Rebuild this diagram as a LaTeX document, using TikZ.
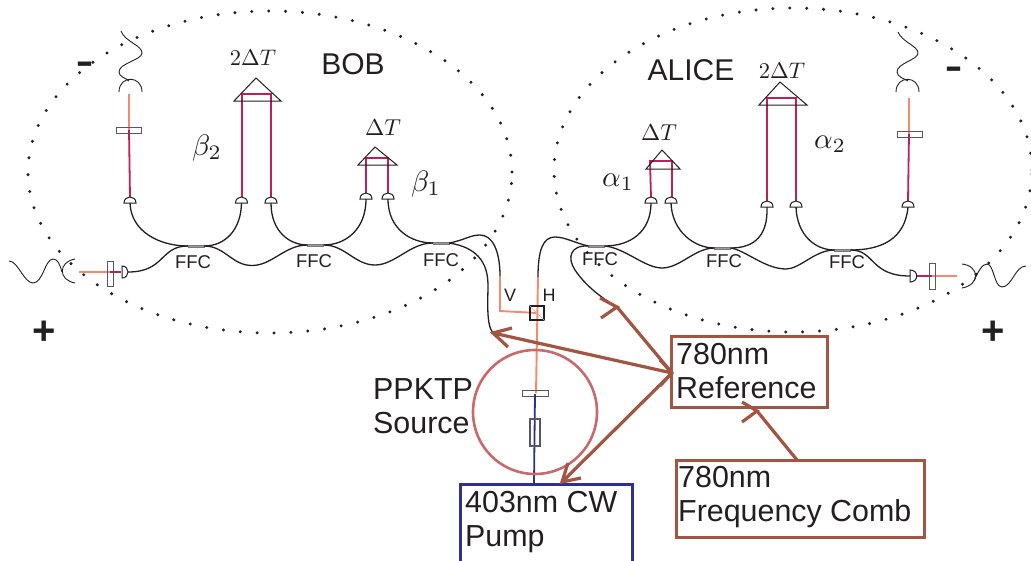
\documentclass[tikz,border=0pt]{standalone}
\usepackage{fontspec}
\setmainfont{Liberation Sans}
\newfontfamily\dvfont{DejaVu Sans}
\definecolor{crim}{HTML}{BE1E5A}
\definecolor{oran}{HTML}{F58B6C}
\definecolor{blu}{HTML}{2E3192}
\definecolor{brwn}{HTML}{A25641}
\definecolor{rosy}{HTML}{C9696A}
\definecolor{ink}{HTML}{231F20}
\newcommand{\fs}[1]{\fontsize{#1}{#1}\selectfont}
\newcommand{\domeup}[3]{\coordinate (#1) at (#2,#3);
  \draw[optic,fill=white] (#2-6,#3) .. controls (#2-6,#3-8) and (#2+6,#3-8) .. (#2+6,#3) -- cycle;}
\tikzset{
  optic/.style={draw=ink,line width=1pt},
  fibre/.style={draw=ink,line width=1.3pt},
  thinw/.style={draw=ink,line width=0.9pt},
  beamc/.style={draw=crim,line width=1.8pt},
  beamo/.style={draw=oran,line width=1.9pt},
  beamb/.style={draw=blu,line width=1.8pt},
  plate/.style={draw=ink!75,line width=1pt,inner sep=0pt,minimum width=#1},
  coupler/.style={fill=ink!45,draw=ink!60,line width=0.4pt,inner sep=0pt,minimum width=16pt,minimum height=2pt},
  dots/.style={draw=ink,line width=3.3pt,line cap=round,dash pattern=on 0pt off 16.9pt},
  ffc/.style={text=ink,font=\fs{18.5}},
  big/.style={text=ink,font=\fs{30.4},align=left},
  mathlab/.style={text=ink,inner sep=0pt,scale=#1},
  signbar/.style={text=ink,font=\dvfont\bfseries\fs{34},inner sep=0pt},
  plussign/.style={text=ink,font=\bfseries\fs{40},inner sep=0pt},
  refbox/.style={draw=brwn,line width=3pt,inner sep=0pt},
  link/.style={draw=brwn,line width=3.2pt},
  barb/.style={draw=brwn,line width=3.2pt,line join=miter},
}
\begin{document}
\begin{tikzpicture}[x=1pt,y=-1pt]
\path[use as bounding box,clip] (0,0) rectangle (1031,560);
\fill[white] (0,0) rectangle (1031,560);
% party regions
\draw[dots] (270,172) ellipse [x radius=242pt,y radius=161pt];
\draw[dots] (793,170) ellipse [x radius=239pt,y radius=162pt];
\node[text=ink,font=\fs{30}] (bob) at (353,64) {BOB};
\node[text=ink,font=\fs{30}] (alice) at (691,70) {ALICE};
% --- BOB optics
\node[coupler] (b1) at (196,246) {};
\node[coupler] (b2) at (315.5,245) {};
\node[coupler] (b3) at (441,243) {};
\node[ffc] (fb1) at (193,262) {FFC};
\node[ffc] (fb2) at (314,261) {FFC};
\node[ffc] (fb3) at (441,260) {FFC};
% beams
\draw[beamo] (129,94) -- (129,130);
\draw[beamc] (129,130) -- (130,197);
\draw[beamc] (242,197) -- (242,94) -- (271,94) -- (271,197);
\draw[beamc] (366,193) -- (366,158) -- (388,158) -- (388,193);
\node[plate=25pt,minimum height=6pt] (bp1) at (128.5,130) {};
\domeup{bd1}{130}{203}
\domeup{bd2}{241.5}{203}
\domeup{bd3}{271}{203}
\domeup{bd4}{366}{199}
\domeup{bd5}{388}{199}
\draw[optic] (234,101) -- (256,78) -- (281,101) -- cycle;
\draw[optic] (358,165) -- (375,147) -- (397,165) -- cycle;
% receivers / waves
\draw[thinw] (119,92) .. controls (119,75) and (142,75) .. (142,92);
\draw[thinw] (121,31) .. controls (125,42) and (142,45) .. (142,53) .. controls (142,60) and (119,63) .. (119,72) .. controls (119,77) and (126,78) .. (129,81);
\draw[thinw] (9,261) .. controls (18,261) and (24,283) .. (33,283) .. controls (43,283) and (45,259) .. (53,259) .. controls (58,259) and (60,265) .. (62,272);
\draw[thinw] (75,259) .. controls (58,262) and (58,280) .. (75,283);
\draw[beamo] (79,272) -- (110,272);
\draw[beamc] (110,272) -- (121,272);
\node[plate=6pt,minimum height=25pt] (bp2) at (110,273.5) {};
\coordinate (bd0) at (128,272);
\draw[optic,fill=white] (122,266) .. controls (130,266) and (130,278) .. (122,278) -- cycle;
% fibres
\draw[fibre] (bd1) .. controls (131,232) and (160,246) .. (b1.west);
\draw[fibre] (bd2) .. controls (241,230) and (225,246) .. (b1.east);
\draw[fibre] (bd3) .. controls (271,232) and (290,245) .. (b2.west);
\draw[fibre] (bd4) .. controls (366,230) and (345,245) .. (b2.east);
\draw[fibre] (bd5) .. controls (388,230) and (412,243) .. (b3.west);
\coordinate (bm1) at (252,265.5);
\coordinate (bm2) at (375,265);
\draw[fibre] (b1.east) .. controls (225,246) and (232,265.5) .. (bm1) .. controls (272,265.5) and (285,245) .. (b2.west);
\draw[fibre] (b2.east) .. controls (345,245) and (355,265) .. (bm2) .. controls (395,265) and (410,243) .. (b3.west);
\draw[fibre] (bd0) .. controls (165,272) and (160,246) .. (b1.west);
% --- source
\coordinate (vend) at (500,276);
\coordinate (hend) at (538,277);
\coordinate (vturn) at (500,311);
\draw[beamo] (vend) -- (vturn) -- (537,313);
\draw[beamo] (hend) -- (536,393);
\node[draw=ink,line width=1.3pt,inner sep=0pt,minimum size=14pt] (pbs) at (537,313) {};
\draw[ink!30,line width=0.6pt] (pbs.north west) -- (pbs.south east);
\node[plate=26pt,minimum height=6pt] (wp) at (535,393.5) {};
\draw[beamb] (535,394) -- (534,483);
\node[plate=10pt,minimum height=27pt,line width=1.2pt] (crystal) at (535,432.5) {};
\node[draw=rosy,line width=2.6pt,circle,inner sep=0pt,minimum size=124pt] (src) at (535,412) {};
\node[ffc,font=\fs{18}] (vl) at (510,295) {V};
\node[ffc,font=\fs{18}] (hl) at (549,295) {H};
\node[big,anchor=west,inner sep=0pt] (ppktp) at (373,406) {PPKTP\\[4pt]Source};
% --- ALICE optics
\node[coupler] (a1) at (596.5,246) {};
\node[coupler] (a2) at (722.5,248) {};
\node[coupler] (a3) at (842.5,250) {};
\node[ffc] (fa1) at (600,259) {FFC};
\node[ffc] (fa2) at (724,261) {FFC};
\node[ffc] (fa3) at (847,262) {FFC};
\draw[beamc] (651,197) -- (650,161) -- (672,161) -- (672,197);
\draw[beamc] (767,201) -- (767,98) -- (796,98) -- (796,201);
\draw[beamo] (909,98) -- (909,134);
\draw[beamc] (909,134) -- (908,201);
\node[plate=25pt,minimum height=6pt] (ap1) at (909.5,134) {};
\domeup{ad1}{651}{203}
\domeup{ad2}{671}{203}
\domeup{ad3}{767}{207}
\domeup{ad4}{796}{207}
\domeup{ad5}{908}{207}
\draw[optic] (646,169) -- (662,150) -- (680,169) -- cycle;
\draw[optic] (759,105) -- (780,82) -- (807,105) -- cycle;
\draw[thinw] (896,92) .. controls (896,75) and (919,75) .. (919,92);
\draw[thinw] (898,32) .. controls (902,42) and (918,46) .. (918,53) .. controls (918,60) and (897,63) .. (897,72) .. controls (897,77) and (905,79) .. (908,81);
\draw[thinw] (974,281) .. controls (978,272) and (982,264) .. (987,264) .. controls (994,264) and (994,287) .. (1002,287) .. controls (1012,287) and (1015,266) .. (1026,266);
\draw[thinw] (962,264) .. controls (980,266) and (980,285) .. (962,288);
\draw[beamc] (917,276) -- (932,276);
\draw[beamo] (932,276) -- (957,276);
\node[plate=6pt,minimum height=26pt] (ap2) at (932,276) {};
\coordinate (ad0) at (910,276);
\draw[optic,fill=white] (910,270) .. controls (919,270) and (919,282) .. (910,282) -- cycle;
\draw[fibre] (ad1) .. controls (651,232) and (630,246) .. (a1.east);
\draw[fibre] (ad2) .. controls (672,232) and (695,248) .. (a2.west);
\draw[fibre] (ad3) .. controls (768,235) and (755,248) .. (a2.east);
\draw[fibre] (ad4) .. controls (797,235) and (815,250) .. (a3.west);
\draw[fibre] (ad5) .. controls (905,240) and (880,250) .. (a3.east);
\coordinate (am1) at (662,268);
\coordinate (am2) at (786,269);
\draw[fibre] (a1.east) .. controls (625,248) and (645,268) .. (am1) .. controls (680,268) and (695,248) .. (a2.west);
\draw[fibre] (a2.east) .. controls (745,250) and (765,269) .. (am2) .. controls (800,269) and (815,250) .. (a3.west);
\draw[fibre] (a3.east) .. controls (875,250) and (870,276) .. (ad0);
% fibres to source
\coordinate (bobtip) at (493,333);
\coordinate (alicetip) at (617,307);
\draw[fibre] (b3.east) .. controls (465,240) and (470,235) .. (480,235) .. controls (492,235) and (500,250) .. (vend);
\draw[fibre] (b3.east) .. controls (468,246) and (488,255) .. (488,285) .. controls (488,300) and (486,325) .. (bobtip);
\draw[fibre] (a1.west) .. controls (575,243) and (565,237) .. (555,237) .. controls (543,237) and (538,250) .. (hend);
\draw[fibre] (a1.west) .. controls (570,245) and (567,258) .. (575,270) .. controls (585,285) and (600,297) .. (alicetip);
% labels
\node[mathlab=2.25] (t1) at (253,58) {$2\Delta T$};
\node[mathlab=2.3] (t2) at (383,128) {$\Delta T$};
\node[mathlab=2.95] (be2) at (207,148) {$\beta_2$};
\node[mathlab=2.95] (be1) at (426,184) {$\beta_1$};
\node[mathlab=2.3] (t3) at (659,133) {$\Delta T$};
\node[mathlab=2.25] (t4) at (782,71) {$2\Delta T$};
\node[mathlab=2.9] (al1) at (618,182) {$\alpha_1$};
\node[mathlab=2.9] (al2) at (830,144) {$\alpha_2$};
\node[signbar] (m1) at (85,68) {–};
\node[signbar] (m2) at (954,73) {–};
\node[plussign] (p1) at (44,333) {+};
\node[plussign] (p2) at (993,333) {+};
% boxes
\node[refbox,minimum width=156pt,minimum height=71pt] (ref) at (749.5,372) {};
\node[big,anchor=west,inner sep=0pt] (reft) at (676,371) {780nm\\[4pt]Reference};
\node[refbox,minimum width=248pt,minimum height=77pt] (comb) at (800,498.5) {};
\node[big,anchor=west,inner sep=0pt] (combt) at (678,497) {780nm\\[4pt]Frequency Comb};
\node[draw=blu,line width=3pt,inner sep=0pt,minimum width=172pt,minimum height=90pt] (pump) at (546.5,529) {};
\node[big,anchor=west,inner sep=0pt] (pumpt) at (465,522) {403nm CW\\[4pt]Pump};
% arrows
\coordinate (reftip) at (672,373);
\coordinate (pumptip) at (562,482);
\coordinate (comtip) at (757,411);
\coordinate (comfoot) at (797,460);
\draw[link] (reftip) -- (bobtip);
\draw[link] (reftip) -- (alicetip);
\draw[link] (reftip) -- (pumptip);
\draw[link] (comfoot) -- (comtip);
\draw[barb] (512,328) -- (bobtip) -- (508,347);
\draw[barb] (600,298) -- (alicetip) -- (601,318);
\draw[barb] (568,463) -- (pumptip) -- (581,478);
\draw[barb] (660,360) -- (reftip) -- (660,386);
\draw[barb] (742,402) -- (comtip) -- (742,422);
\end{tikzpicture}
\end{document}
